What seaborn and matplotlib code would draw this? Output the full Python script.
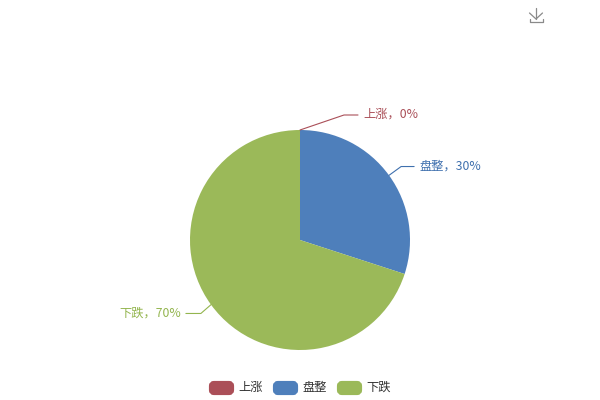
import numpy as np
import matplotlib
matplotlib.use('Agg')
import matplotlib.pyplot as plt
import seaborn as sns
from matplotlib.patches import FancyBboxPatch

categories = ['上涨', '盘整', '下跌']
values = [0, 30, 70]
colors = ['#AB4F58', '#4E7FBB', '#9BB959']
label_colors = ['#AA4F58', '#3F70AE', '#93B54E']

sns.set_theme(style='white')
plt.rcParams['font.family'] = ['Noto Sans CJK SC', 'DejaVu Sans']

# axes in pixel units so the layout can follow the 600x400 picture
fig = plt.figure(figsize=(6, 4), dpi=100)
ax = fig.add_axes([0, 0, 1, 1])

cx, cy, radius = 300, 240, 110

# y axis is flipped below, so counterclock here reads clockwise from the top
ax.pie(values, colors=colors, startangle=-90, counterclock=True,
       center=(cx, cy), radius=radius, frame=False,
       wedgeprops={'linewidth': 0})
ax.set_aspect('equal')
ax.set_xlim(0, 600)
ax.set_ylim(400, 0)
ax.axis('off')

# leader lines
fixes = [44, 0, 2]
runs = [14, 13, 15]
cum = 0
for name, val, col, fix, run in zip(categories, values, label_colors, fixes, runs):
    mid = np.deg2rad((cum + val / 2) / sum(values) * 360)
    cum += val
    sx, sy = np.sin(mid), -np.cos(mid)
    side = 1 if sx >= -1e-9 else -1
    x0, y0 = cx + radius * sx, cy + radius * sy
    x1, y1 = cx + (radius + 15) * sx + fix, cy + (radius + 15) * sy
    x2 = x1 + side * run
    ax.plot([x0, x1, x2], [y0, y1, y1], color=col, lw=0.8)
    ax.text(x2 + side * 5, y1 - 0.5, f'{name}，{val}%', color=col, fontsize=8.8,
            ha='left' if side > 0 else 'right', va='center')

# legend
lx = 209
for name, col in zip(categories, colors):
    ax.add_patch(FancyBboxPatch((lx + 2, 383), 21, 10,
                                boxstyle='round,pad=0,rounding_size=3',
                                fc=col, ec=col, lw=3))
    ax.text(lx + 29.5, 387.5, name, color='#333333', fontsize=8.8, ha='left', va='center')
    lx += 64

# download icon
icon = '#8A8A8A'
ax.plot([536, 536], [8, 19], color=icon, lw=0.9)
ax.plot([529.5, 536, 542.5], [13, 19, 13], color=icon, lw=0.9)
ax.plot([529.5, 529.5, 542.5, 542.5], [19, 22, 22, 19], color=icon, lw=0.9)

fig.savefig('out.png', dpi=100, facecolor='white')
